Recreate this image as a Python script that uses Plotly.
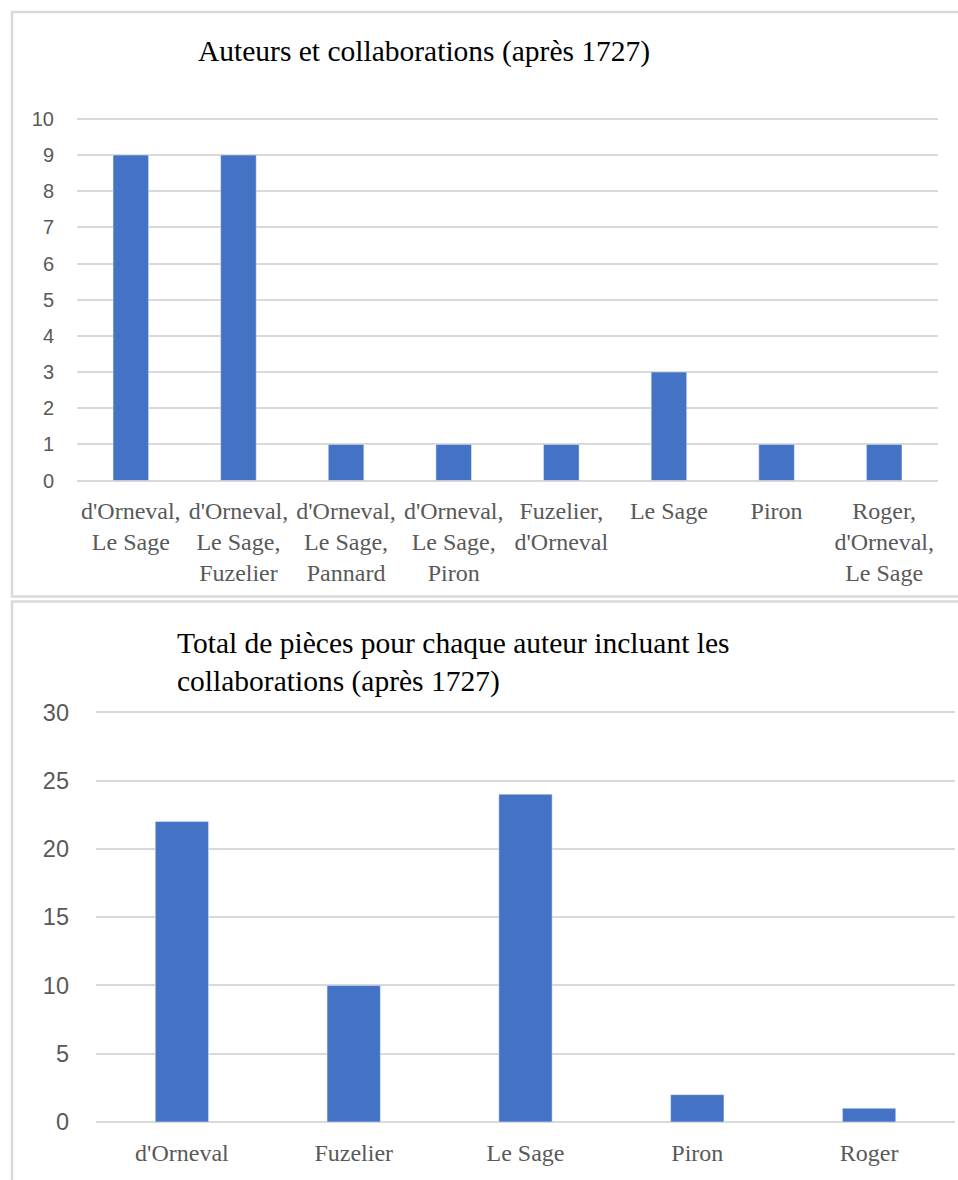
import plotly.graph_objects as go

W, H = 958, 1180
# observed viewer mapping (vertical): screen_y = A + B * figure_y
A, B = 11.0, 0.9806

# ---- data ----
collab_labels = ["d'Orneval,<br>Le Sage", "d'Orneval,<br>Le Sage,<br>Fuzelier",
                 "d'Orneval,<br>Le Sage,<br>Pannard", "d'Orneval,<br>Le Sage,<br>Piron",
                 "Fuzelier,<br>d'Orneval", "Le Sage", "Piron",
                 "Roger,<br>d'Orneval,<br>Le Sage"]
collab_values = [9, 9, 1, 1, 1, 3, 1, 1]

author_labels = ["d'Orneval", "Fuzelier", "Le Sage", "Piron", "Roger"]
author_values = [22, 10, 24, 2, 1]

title_top = "Auteurs et collaborations (après 1727)"
title_bottom = "Total de pièces pour chaque auteur incluant les<br>collaborations (après 1727)"

BAR = "#4472C4"
GRID = "#d9d9d9"
TXT = "#595959"
SERIF = "Liberation Serif, Times New Roman, serif"
SANS = "Liberation Sans, Arial, sans-serif"


def px(x):
    return x / W


def py(y):
    fy = (y - A) / B
    return 1 - fy / H


# axis pixel geometry (target screen coords)
top_y0, top_y10 = 481.0, 119.0
top_unit = (top_y0 - top_y10) / 10
top_max = 10.05
bot_y0, bot_y30 = 1123.0, 713.0
bot_unit = (bot_y0 - bot_y30) / 30
bot_max = 30.1

fig = go.Figure()
fig.add_trace(go.Bar(x=collab_labels, y=collab_values, marker_color=BAR,
                     width=0.33, xaxis="x", yaxis="y", showlegend=False,
                     hoverinfo="x+y"))
fig.add_trace(go.Bar(x=author_labels, y=author_values, marker_color=BAR,
                     width=0.31, xaxis="x2", yaxis="y2", showlegend=False,
                     hoverinfo="x+y"))

fig.update_layout(
    width=W, height=H,
    margin=dict(l=0, r=0, t=0, b=0),
    paper_bgcolor="white", plot_bgcolor="white",
    xaxis=dict(domain=[px(77), px(938)], anchor="y", showgrid=False,
               showline=False, zeroline=False, ticks="",
               tickfont=dict(family=SERIF, size=24, color=TXT),
               ticklabelstandoff=13, tickangle=0),
    yaxis=dict(domain=[py(top_y0), py(top_y0 - top_max * top_unit)], anchor="x",
               range=[0, top_max], dtick=1,
               showgrid=True, gridcolor=GRID, gridwidth=1.5,
               zeroline=True, zerolinecolor=GRID, zerolinewidth=2,
               showline=False, ticks="",
               tickfont=dict(family=SANS, size=20, color=TXT),
               ticklabelstandoff=22),
    xaxis2=dict(domain=[px(96), px(955)], anchor="y2", showgrid=False,
                showline=False, zeroline=False, ticks="",
                tickfont=dict(family=SERIF, size=24, color=TXT),
                ticklabelstandoff=14, tickangle=0),
    yaxis2=dict(domain=[py(bot_y0), py(bot_y0 - bot_max * bot_unit)], anchor="x2",
                range=[0, bot_max], dtick=5,
                showgrid=True, gridcolor=GRID, gridwidth=1.5,
                zeroline=True, zerolinecolor=GRID, zerolinewidth=2,
                showline=False, ticks="",
                tickfont=dict(family=SANS, size=23.5, color=TXT),
                ticklabelstandoff=26),
    annotations=[
        dict(text=title_top, x=px(424), y=py(52), xref="paper", yref="paper",
             xanchor="center", yanchor="middle", showarrow=False,
             font=dict(family=SERIF, size=29.5, color="black")),
        dict(text=title_bottom, x=px(175), y=py(663), xref="paper", yref="paper",
             xanchor="left", yanchor="middle", align="left", showarrow=False,
             font=dict(family=SERIF, size=29.5, color="black")),
    ],
    shapes=[
        dict(type="rect", xref="paper", yref="paper",
             x0=px(12), x1=px(960), y0=py(597), y1=py(12),
             line=dict(color=GRID, width=2.5), layer="below"),
        dict(type="rect", xref="paper", yref="paper",
             x0=px(12), x1=px(960), y0=py(1230), y1=py(602),
             line=dict(color=GRID, width=2.5), layer="below"),
    ],
)

fig.write_html("out.html")
